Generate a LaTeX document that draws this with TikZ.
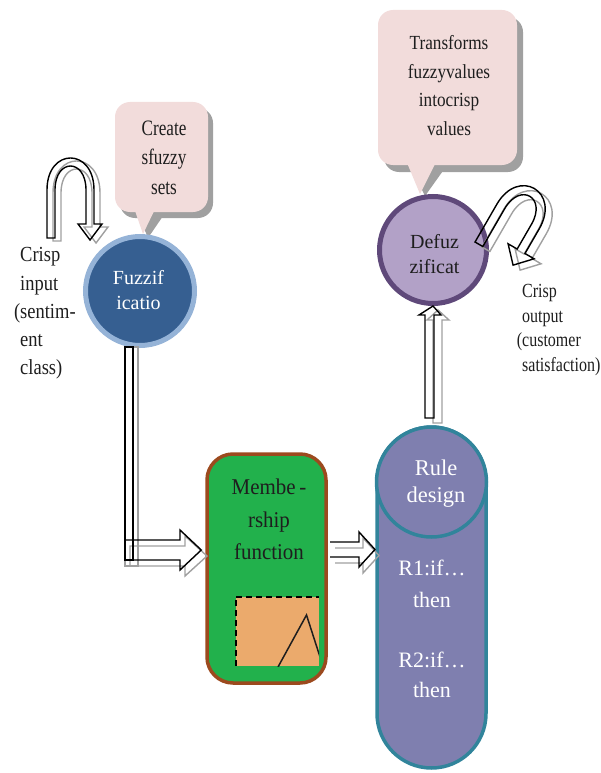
\documentclass[tikz,border=0pt]{standalone}
\usepackage{fontspec}
\setmainfont{Liberation Serif}
\newfontfamily\condA[FakeStretch=0.78]{Liberation Serif}
\newfontfamily\condB[FakeStretch=0.86]{Liberation Serif}
\newfontfamily\condC[FakeStretch=0.8]{Liberation Serif}
\newfontfamily\condD[FakeStretch=0.93]{Liberation Serif}
\usetikzlibrary{calc}
\definecolor{fzblue}{RGB}{54,95,145}
\definecolor{fzring}{RGB}{149,179,215}
\definecolor{dfzfill}{RGB}{178,161,199}
\definecolor{dfzring}{RGB}{95,73,122}
\definecolor{mbgreen}{RGB}{34,177,76}
\definecolor{mbbrown}{RGB}{156,74,30}
\definecolor{mborange}{RGB}{235,170,108}
\definecolor{rulefill}{RGB}{127,127,175}
\definecolor{ruleteal}{RGB}{49,132,155}
\definecolor{callpink}{RGB}{242,220,219}
\definecolor{shadgray}{RGB}{160,160,160}
\definecolor{txtdark}{RGB}{30,30,30}
\begin{document}
\begin{tikzpicture}[x=1pt,y=-1pt,
  outl/.style={draw=black,line width=1.4pt,line join=miter},
  shad/.style={draw=shadgray,line width=1.4pt,line join=miter},
  txt/.style={inner sep=0pt,align=center},
  callbox/.style={fill=callpink,rounded corners=15pt,inner sep=0pt},
  callshadow/.style={fill=shadgray,rounded corners=15pt,inner sep=0pt}]
\useasboundingbox (0,0) rectangle (601,773);

% ---------- callout 1 ----------
\fill[callshadow] (120,108) rectangle (213,218);
\fill[shadgray] (139,216) -- (163,216) -- (148,238) -- cycle;
\node[callbox,minimum width=93pt,minimum height=110pt] (call1) at (161.5,157) {};
\fill[callpink] (133,205) -- (157,205) -- (143,234) -- cycle;
\node[txt,font=\condA\fontsize{22}{29.5}\selectfont,text=txtdark] (call1t) at (164,157.5) {Create\\sfuzzy\\sets};

% ---------- callout 2 ----------
\fill[callshadow] (384,17) rectangle (523,172);
\fill[shadgray] (411,168) -- (445,168) -- (425,196) -- cycle;
\node[callbox,minimum width=139pt,minimum height=155pt] (call2) at (447.5,87.5) {};
\fill[callpink] (405,158) -- (438,158) -- (420,194) -- cycle;
\node[txt,font=\condB\fontsize{20}{28.7}\selectfont,text=txtdark] (call2t) at (449,85.5) {Transforms\\fuzzyvalues\\intocrisp\\values};

% ---------- fuzzification ----------
\node[circle,fill=fzblue,draw=fzring,line width=5pt,minimum size=109pt,inner sep=0pt] (fuzz) at (140,291) {};
\node[txt,font=\fontsize{20}{25}\selectfont,text=white] (fuzzt) at (138.5,290.5) {Fuzzif\\icatio};

% ---------- defuzzification ----------
\node[circle,fill=dfzfill,draw=dfzring,line width=5pt,minimum size=107pt,inner sep=0pt] (defuz) at (433,250) {};
\node[txt,font=\fontsize{20}{25}\selectfont,text=txtdark] (defuzt) at (434.5,254.5) {Defuz\\zificat};

% ---------- membership ----------
\node[fill=mbgreen,draw=mbbrown,line width=3.5pt,rounded corners=26pt,minimum width=119pt,minimum height=229pt,inner sep=0pt] (memb) at (266.5,568.5) {};
\node[txt,font=\condD\fontsize{22.5}{32.5}\selectfont,text=txtdark] (membt) at (269,519.5) {Membe\,-\\rship\\function};
\node[fill=mborange,minimum width=83pt,minimum height=69pt,inner sep=0pt] (mbf) at (277.5,631.5) {};
\begin{scope}
  \clip (mbf.north west) rectangle (mbf.south east);
  \draw[line width=1.5pt,txtdark] (278,667) -- (306.5,615) -- (321,660);
\end{scope}
\draw[line width=2.4pt,dash pattern=on 6pt off 4pt] (mbf.south west) -- (mbf.north west) -- (mbf.north east);

% ---------- rule design ----------
\node[fill=rulefill,draw=ruleteal,line width=3.5pt,rounded corners=54.5pt,minimum width=109pt,minimum height=341pt,inner sep=0pt] (rule) at (431.5,597.5) {};
\node[circle,fill=rulefill,draw=ruleteal,line width=3.5pt,minimum size=110pt,inner sep=0pt] (rulec) at (431.5,482) {};
\node[txt,font=\fontsize{22.5}{27}\selectfont,text=white] (rulet) at (436,483.5) {Rule\\design};
\node[txt,font=\fontsize{22}{32}\selectfont,text=white] (r1) at (432,584) {R1:if…\\then};
\node[txt,font=\fontsize{22}{30}\selectfont,text=white] (r2) at (432,675) {R2:if…\\then};

% ---------- side texts ----------
\node[inner sep=0pt,align=left,anchor=west,font=\condB\fontsize{21.5}{28.3}\selectfont,text=txtdark] (crispin) at (20,313.5) {Crisp\\input\\\llap{(}sentim-\\ent\\class)};
\node[inner sep=0pt,align=left,anchor=west,font=\condC\fontsize{20}{24.7}\selectfont,text=txtdark] (crispout) at (522,330) {Crisp\\output\\\llap{(}customer\\satisfaction)};

% ---------- arrow: fuzzification -> membership ----------
\begin{scope}[shift={(5,6)}]
  \draw[shad] ($(fuzz.south)+(-15,-1)$) rectangle (133,560);
  \draw[shad] (125,540) -- (180,540) -- (180,530) -- (202,550) -- (180,570) -- (180,560) -- (125,560) -- cycle;
\end{scope}
\draw[outl] ($(fuzz.south)+(-15,-1)$) rectangle (133,560);
\draw[outl] (125,540) -- (180,540) -- (180,530) -- ($(memb.west)+(-4,-18.5)$) -- (180,570) -- (180,560) -- (125,560) -- cycle;

% ---------- arrow: membership -> rule ----------
\begin{scope}[shift={(4,6)}]
  \draw[shad] (331,542) -- (359,542) -- (359,532) -- (375,549.5) -- (359,567) -- (359,557) -- (331,557);
\end{scope}
\draw[outl] (330,542) -- (359,542) -- (359,532) -- (375,549.5) -- (359,567) -- (359,557) -- (330,557);

% ---------- arrow: rule -> defuzzification ----------
\begin{scope}[shift={(8,5)}]
  \draw[shad] (425,418) -- (425,315) -- (419,315) -- (430,305) -- (441,315) -- (434,315) -- (434,418) -- cycle;
\end{scope}
\draw[outl] (425,418) -- (425,315) -- (419,315) -- (defuz.south) -- (441,315) -- (434,315) -- (434,418) -- cycle;

% ---------- U-turn arrow: crisp input ----------
\begin{scope}[shift={(76.5,193)}]
  \draw[shad] (-15.5,48) -- (-23.5,48) -- (-23.5,0) .. controls (-23.5,-42.7) and (23.5,-42.7) .. (23.5,0) -- (23.5,34) -- (31.5,34) -- (19.5,50) -- (7.5,34) -- (15.5,34) -- (15.5,0) .. controls (15.5,-32) and (-15.5,-32) .. (-15.5,0) -- cycle;
\end{scope}
\begin{scope}[shift={(70.5,190)}]
  \draw[outl] (-15.5,48) -- (-23.5,48) -- (-23.5,0) .. controls (-23.5,-42.7) and (23.5,-42.7) .. (23.5,0) -- (23.5,34) -- (31.5,34) -- (19.5,50) -- (7.5,34) -- (15.5,34) -- (15.5,0) .. controls (15.5,-32) and (-15.5,-32) .. (-15.5,0) -- cycle;
\end{scope}

% ---------- U-turn arrow: crisp output ----------
\begin{scope}[shift={(525,221.6)},rotate=-30]
  \draw[shad] (-15.5,43.5) -- (-24.5,43.5) -- (-24.5,0) .. controls (-24.5,-43.3) and (24.5,-43.3) .. (24.5,0) -- (24.5,28.5) -- (35,28.5) -- (20,44.5) -- (5,28.5) -- (15.5,28.5) -- (15.5,0) .. controls (15.5,-31.3) and (-15.5,-31.3) .. (-15.5,0) -- cycle;
\end{scope}
\begin{scope}[shift={(518,216.6)},rotate=-30]
  \draw[outl] (-15.5,43.5) -- (-24.5,43.5) -- (-24.5,0) .. controls (-24.5,-43.3) and (24.5,-43.3) .. (24.5,0) -- (24.5,28.5) -- (35,28.5) -- (20,44.5) -- (5,28.5) -- (15.5,28.5) -- (15.5,0) .. controls (15.5,-31.3) and (-15.5,-31.3) .. (-15.5,0) -- cycle;
\end{scope}
\end{tikzpicture}
\end{document}
